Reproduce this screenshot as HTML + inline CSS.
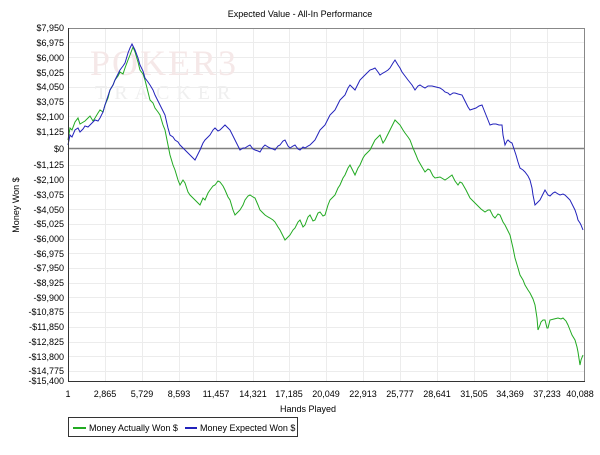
<!DOCTYPE html>
<html><head><meta charset="utf-8"><style>
body{margin:0;width:600px;height:450px;background:#fff;overflow:hidden;font-family:"Liberation Sans",sans-serif}
</style></head><body>
<svg width="600" height="450" xmlns="http://www.w3.org/2000/svg" font-family="Liberation Sans, sans-serif" font-size="9">
<rect x="0" y="0" width="600" height="450" fill="#fff"/>
<text x="300" y="17" text-anchor="middle" fill="#000">Expected Value - All-In Performance</text>
<g stroke="#ececec" stroke-width="1">
<line x1="105.5" y1="28" x2="105.5" y2="381"/><line x1="142.5" y1="28" x2="142.5" y2="381"/><line x1="179.5" y1="28" x2="179.5" y2="381"/><line x1="216.5" y1="28" x2="216.5" y2="381"/><line x1="253.5" y1="28" x2="253.5" y2="381"/><line x1="289.5" y1="28" x2="289.5" y2="381"/><line x1="326.5" y1="28" x2="326.5" y2="381"/><line x1="363.5" y1="28" x2="363.5" y2="381"/><line x1="400.5" y1="28" x2="400.5" y2="381"/><line x1="437.5" y1="28" x2="437.5" y2="381"/><line x1="474.5" y1="28" x2="474.5" y2="381"/><line x1="510.5" y1="28" x2="510.5" y2="381"/><line x1="547.5" y1="28" x2="547.5" y2="381"/>
<line x1="68" y1="42.5" x2="584" y2="42.5"/><line x1="68" y1="57.5" x2="584" y2="57.5"/><line x1="68" y1="72.5" x2="584" y2="72.5"/><line x1="68" y1="87.5" x2="584" y2="87.5"/><line x1="68" y1="101.5" x2="584" y2="101.5"/><line x1="68" y1="116.5" x2="584" y2="116.5"/><line x1="68" y1="131.5" x2="584" y2="131.5"/>
<line x1="68" y1="165.5" x2="584" y2="165.5"/><line x1="68" y1="180.5" x2="584" y2="180.5"/><line x1="68" y1="194.5" x2="584" y2="194.5"/><line x1="68" y1="209.5" x2="584" y2="209.5"/><line x1="68" y1="224.5" x2="584" y2="224.5"/><line x1="68" y1="239.5" x2="584" y2="239.5"/><line x1="68" y1="253.5" x2="584" y2="253.5"/><line x1="68" y1="268.5" x2="584" y2="268.5"/><line x1="68" y1="283.5" x2="584" y2="283.5"/><line x1="68" y1="297.5" x2="584" y2="297.5"/><line x1="68" y1="312.5" x2="584" y2="312.5"/><line x1="68" y1="327.5" x2="584" y2="327.5"/><line x1="68" y1="342.5" x2="584" y2="342.5"/><line x1="68" y1="356.5" x2="584" y2="356.5"/><line x1="68" y1="371.5" x2="584" y2="371.5"/>
</g>
<text x="90" y="75" font-size="36" font-family="Liberation Serif, serif" fill="#f5e8e8" letter-spacing="2">POKER3</text>
<text x="95" y="99" font-size="20" font-family="Liberation Serif, serif" fill="#efefef" letter-spacing="7">TRACKER</text>
<line x1="68" y1="148.5" x2="584" y2="148.5" stroke="#808080" stroke-width="1.5"/>
<polyline fill="none" stroke="#22aa22" stroke-width="1" points="68,140 70,128 72,130 75,122 78,118 80,124 85,121 88,118 90,116 93,121 95,118 98,113 100,110 103,112 105,105 108,98 110,90 113,85 115,80 118,76 120,72 123,74 125,68 128,60 130,55 133,47 135,52 138,62 140,70 143,74 145,80 148,92 150,100 153,103 155,108 158,112 160,115 163,125 165,130 168,145 170,155 173,165 175,170 178,180 180,185 183,180 185,183 188,192 190,195 193,198 195,200 198,203 200,205 203,198 205,200 208,193 210,190 213,186 215,185 218,181 220,182 223,186 225,190 228,197 230,200 233,210 235,215 238,212 240,210 243,205 245,200 248,196 250,195 253,197 255,198 258,205 260,210 263,213 265,215 268,217 270,218 273,220 275,222 278,227 280,230 283,236 285,240 288,237 290,235 293,230 295,228 298,222 300,220 303,227 305,225 308,217 310,215 313,221 315,220 318,213 320,212 323,216 325,215 328,205 330,200 333,197 335,195 338,188 340,185 343,178 345,175 348,168 350,165 353,171 355,175 358,168 360,165 363,158 365,155 368,152 370,150 373,144 375,140 378,137 380,135 383,143 385,140 388,134 390,130 393,124 395,120 398,123 400,125 403,130 405,133 408,137 410,140 413,148 416,155 418,160 422,167 425,172 428,169 430,170 433,176 435,178 440,177 445,180 448,178 452,175 455,181 458,185 460,182 462,183 466,190 470,198 474,202 477,205 481,209 485,212 488,210 490,210 493,216 495,218 498,214 500,215 503,222 505,225 508,231 510,235 513,248 515,258 518,268 520,275 523,280 525,285 528,290 530,293 533,299 535,305 537,318 538,330 540,325 541,322 543,320 545,320 547,328 548,328 550,320 554,319 558,318 561,319 563,318 566,321 568,325 570,330 572,335 575,340 577,347 578,352 580,365 581,360 583,355"/>
<polyline fill="none" stroke="#2222bb" stroke-width="1" points="68,145 70,135 72,137 75,130 78,128 80,132 83,129 85,126 88,127 90,125 93,122 95,120 98,121 100,118 103,112 105,105 108,96 110,90 113,85 115,80 118,74 120,70 123,66 125,63 128,53 130,48 132,44 135,50 138,58 140,65 143,71 145,78 148,82 150,85 153,90 155,95 158,101 160,105 163,111 165,115 168,128 170,135 173,137 175,140 178,142 180,145 183,148 185,150 188,153 190,155 193,158 195,160 198,154 200,150 203,143 205,140 208,137 210,135 213,130 215,128 218,131 220,130 223,127 225,125 228,128 230,130 233,136 235,140 238,146 240,150 243,148 245,148 248,146 250,145 253,149 255,150 258,151 260,152 263,147 265,145 268,147 270,148 273,149 275,150 278,146 280,145 283,141 285,140 288,146 290,148 293,146 295,145 298,149 300,150 303,147 305,148 308,146 310,145 313,142 315,140 318,134 320,130 323,127 325,125 328,119 330,115 333,112 335,110 338,104 340,100 343,97 345,95 348,88 350,85 353,88 355,90 358,84 360,80 363,77 365,75 368,72 370,70 373,69 375,68 378,72 380,75 383,73 385,72 388,70 390,68 393,63 395,60 398,65 400,68 402,72 405,76 408,80 412,85 415,90 418,86 420,85 423,87 425,88 428,86 432,86 436,87 440,88 443,90 445,92 448,93 450,95 453,93 455,93 458,94 462,95 464,99 466,103 468,107 470,110 473,109 476,108 479,106 482,105 484,110 486,115 488,120 490,125 493,124 496,124 499,125 502,125 503,135 505,145 507,141 508,140 510,142 512,143 514,149 516,155 518,162 520,168 523,170 525,172 528,176 530,180 532,188 533,195 535,205 538,202 540,200 543,194 545,190 548,195 550,196 553,193 555,192 558,194 560,195 563,194 565,195 568,198 570,200 573,206 575,210 577,216 578,220 580,223 581,225 583,230"/>
<rect x="68.5" y="28.5" width="516" height="353" fill="none" stroke="#888" stroke-width="1"/>
<line x1="68.5" y1="28" x2="68.5" y2="382" stroke="#333" stroke-width="1"/>
<line x1="68" y1="381.5" x2="585" y2="381.5" stroke="#333" stroke-width="1"/>
<g fill="#000" text-anchor="end">
<text x="64" y="31">$7,950</text><text x="64" y="46">$6,975</text><text x="64" y="61">$6,000</text><text x="64" y="76">$5,025</text><text x="64" y="90">$4,050</text><text x="64" y="105">$3,075</text><text x="64" y="120">$2,100</text><text x="64" y="135">$1,125</text><text x="64" y="152">$0</text><text x="64" y="168">-$1,125</text><text x="64" y="183">-$2,100</text><text x="64" y="198">-$3,075</text><text x="64" y="213">-$4,050</text><text x="64" y="227">-$5,025</text><text x="64" y="242">-$6,000</text><text x="64" y="257">-$6,975</text><text x="64" y="271">-$7,950</text><text x="64" y="286">-$8,925</text><text x="64" y="301">-$9,900</text><text x="64" y="315">-$10,875</text><text x="64" y="330">-$11,850</text><text x="64" y="345">-$12,825</text><text x="64" y="360">-$13,800</text><text x="64" y="374">-$14,775</text><text x="64" y="384">-$15,400</text>
</g>
<g fill="#000" text-anchor="middle">
<text x="68" y="397">1</text><text x="105" y="397">2,865</text><text x="142" y="397">5,729</text><text x="179" y="397">8,593</text><text x="216" y="397">11,457</text><text x="253" y="397">14,321</text><text x="289" y="397">17,185</text><text x="326" y="397">20,049</text><text x="363" y="397">22,913</text><text x="400" y="397">25,777</text><text x="437" y="397">28,641</text><text x="474" y="397">31,505</text><text x="510" y="397">34,369</text><text x="547" y="397">37,233</text><text x="580" y="397">40,088</text>
</g>
<text x="308" y="412" text-anchor="middle">Hands Played</text>
<text transform="translate(19,205) rotate(-90)" text-anchor="middle">Money Won $</text>
<rect x="68.5" y="417.5" width="229" height="19" fill="#fff" stroke="#333"/>
<line x1="73" y1="428" x2="86" y2="428" stroke="#22aa22" stroke-width="2"/>
<text x="89" y="431">Money Actually Won $</text>
<line x1="185" y1="428" x2="197" y2="428" stroke="#2222bb" stroke-width="2"/>
<text x="200" y="431">Money Expected Won $</text>
</svg>
</body></html>
